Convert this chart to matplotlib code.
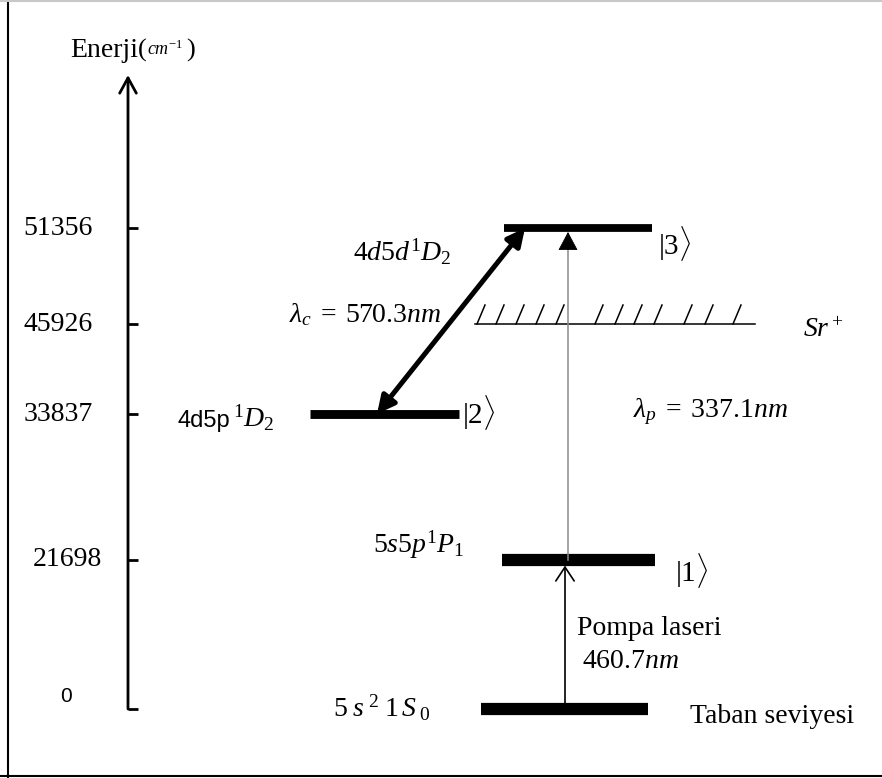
import numpy as np
import matplotlib
matplotlib.use("Agg")
import matplotlib.pyplot as plt
from matplotlib.lines import Line2D

# ---- data ----
level_energy = [0, 21698, 33837, 51356]          # ground, |1>, |2>, |3>  (cm^-1)
ion_energy = 45926                               # Sr+ threshold
tick_energy = [0, 21698, 33837, 45926, 51356]
tick_labels = ["0", "21698", "33837", "45926", "51356"]
state_labels = ["", r"$|1\rangle$", r"$|2\rangle$", r"$|3\rangle$"]
term_labels = [r"$5\;s^{\;2}\;1\,S_{\;0}$", r"$5s5p^1P_1$",
               r"${}^{1}D_2$", r"$4d5d^1D_2$"]
lambda_c = 570.3
lambda_p = 337.1
lambda_pump = 460.7

# ---- layout (schematic, pixel units) ----
W, H = 882, 778
row_px = [709, 560, 414, 324, 228]   # vertical row of each tick energy
E_anchor = np.array(tick_energy, float)
U_anchor = H - np.array(row_px, float)


def _pl(x, xs, ys):
    # piecewise linear with linear extrapolation at both ends
    x = np.asarray(x, float)
    y = np.interp(x, xs, ys)
    lo = (ys[1] - ys[0]) / (xs[1] - xs[0])
    hi = (ys[-1] - ys[-2]) / (xs[-1] - xs[-2])
    y = np.where(x < xs[0], ys[0] + (x - xs[0]) * lo, y)
    y = np.where(x > xs[-1], ys[-1] + (x - xs[-1]) * hi, y)
    return y


def forward(e):
    return _pl(e, E_anchor, U_anchor)


def inverse(u):
    return _pl(u, U_anchor, E_anchor)


def e_up(e, dpx):
    return float(inverse(forward(e) + dpx))


def px(x, y):
    return (x / W, 1 - y / H)


plt.rcParams["mathtext.fontset"] = "custom"
plt.rcParams["mathtext.rm"] = "Liberation Serif"
plt.rcParams["mathtext.it"] = "Liberation Serif:italic"
plt.rcParams["mathtext.bf"] = "Liberation Serif:bold"
plt.rcParams["mathtext.sf"] = "Liberation Sans"
serif = "Liberation Serif"

fig = plt.figure(figsize=(W / 100, H / 100), dpi=100)
ax = fig.add_axes([0, 0, 1, 1])
ax.set_yscale("function", functions=(forward, inverse))
ax.set_xlim(0, W)
ax.set_ylim(float(inverse(0)), float(inverse(H)))
ax.axis("off")

# frame
fig.add_artist(Line2D([7.5 / W] * 2, [0, 1], transform=fig.transFigure, color="black", lw=1.5))
fig.add_artist(Line2D([0, 1], [1 - 776 / H] * 2, transform=fig.transFigure, color="black", lw=1.5))
fig.add_artist(Line2D([0, 1], [1 - 0.5 / H] * 2, transform=fig.transFigure, color="#c8c8c8", lw=1.5))

# energy axis
axis_x = 128
ax.annotate("", xy=(axis_x, e_up(0, 709 - 75)), xytext=(axis_x, tick_energy[0]),
            arrowprops=dict(arrowstyle="->,head_length=0.55,head_width=0.3", lw=2,
                            color="black", shrinkA=0, shrinkB=0, mutation_scale=20))
tick_label_x = [66, 102, 93, 93, 93]
for e, lab, tx in zip(tick_energy, tick_labels, tick_label_x):
    ax.plot([axis_x, axis_x + 10], [e, e], color="black", lw=2, solid_capstyle="butt")
    if lab == "0":
        ax.text(tx, e_up(e, 13), lab, ha="center", va="center", fontsize=15,
                family="Liberation Sans")
    else:
        ax.text(tx, e, lab, ha="right", va="center", fontsize=20, family=serif)

ax.text(*px(70, 57), "Enerji", transform=ax.transAxes, fontsize=20, family=serif,
        va="baseline")
ax.text(*px(138, 57), "(", transform=ax.transAxes, fontsize=19, family=serif, va="baseline")
ax.text(*px(147, 55), r"$cm^{-1}$", transform=ax.transAxes, fontsize=13, va="baseline")
ax.text(*px(186, 57), ")", transform=ax.transAxes, fontsize=19, family=serif, va="baseline")

# levels
bar_x = [(481, 648), (502, 655), (310, 459), (504, 652)]
bar_th = [11, 11, 8, 7]
for e, (x0, x1), th in zip(level_energy, bar_x, bar_th):
    ax.plot([x0, x1], [e, e], color="black", lw=th * 0.8, solid_capstyle="butt")

# ionisation threshold (hatched)
ax.plot([475, 755], [ion_energy, ion_energy], color="black", lw=1.1)
hatch_x = [477, 496, 516, 536, 556, 595, 615, 634, 654, 684, 705, 733]
hatch_top = e_up(ion_energy, 19)
for hx in hatch_x:
    ax.plot([hx, hx + 8], [ion_energy, hatch_top], color="black", lw=1.1)

# coupling laser (double arrow between |2> and |3>)
ax.annotate("", xy=(525, level_energy[3]), xytext=(377, level_energy[2]),
            arrowprops=dict(arrowstyle="<|-|>,head_length=0.7,head_width=0.35", lw=3.6,
                            color="black", shrinkA=0, shrinkB=0, mutation_scale=15))
# probe laser |1> -> |3>: thin gray shaft, small black head
probe_x = 568
probe_tip = e_up(level_energy[3], -4)
ax.plot([probe_x, probe_x], [level_energy[1], e_up(level_energy[3], -14)],
        color="#8a8a8a", lw=1.1)
ax.annotate("", xy=(probe_x, probe_tip), xytext=(probe_x, e_up(level_energy[3], -16)),
            arrowprops=dict(arrowstyle="-|>,head_length=0.6,head_width=0.32", lw=0.6,
                            color="black", shrinkA=0, shrinkB=0, mutation_scale=20))
# pump laser ground -> |1>
ax.annotate("", xy=(565, level_energy[1]), xytext=(565, level_energy[0]),
            arrowprops=dict(arrowstyle="->,head_length=0.5,head_width=0.33", lw=1.2,
                            color="black", shrinkA=0, shrinkB=4, mutation_scale=20))

# labels
def label(x, y, s, size=20, **kw):
    ax.text(*px(x, y), s, transform=ax.transAxes, fontsize=size, va="baseline",
            family=serif, **kw)


label(333, 717, term_labels[0])
label(373, 553, term_labels[1])
ax.text(*px(177, 427), "4d5p", transform=ax.transAxes, fontsize=17, va="baseline",
        family="Liberation Sans")
label(233, 427, term_labels[2])
label(353, 261, term_labels[3])
ax.text(*px(462, 412), state_labels[2], transform=ax.transAxes, fontsize=21, va="center")
ax.text(*px(658, 244), state_labels[3], transform=ax.transAxes, fontsize=21, va="center")
ax.text(*px(675, 570), state_labels[1], transform=ax.transAxes, fontsize=21, va="center")
label(289, 322, r"$\lambda_c\;=\;%.1fnm$" % lambda_c)
label(633, 417, r"$\lambda_p\;=\;%.1fnm$" % lambda_p)
label(803, 337, r"$Sr^+$")
label(577, 635, "Pompa laseri")
label(582, 668, f"${lambda_pump:.1f}nm$")
label(690, 723, "Taban seviyesi")

fig.savefig("out.png", dpi=100)
